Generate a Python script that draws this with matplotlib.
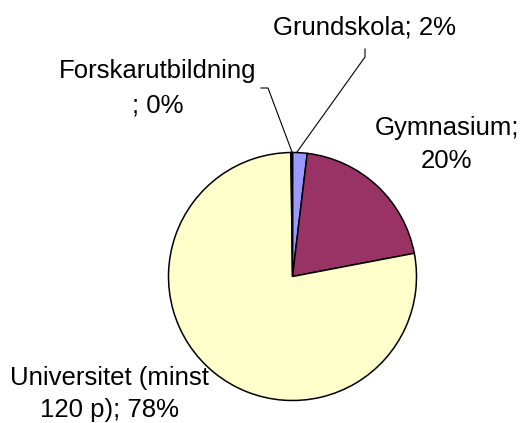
import matplotlib
matplotlib.use("Agg")
import matplotlib.pyplot as plt

# Data
categories = ["Grundskola", "Gymnasium", "Universitet (minst 120 p)", "Forskarutbildning"]
values = [1.9, 20.1, 77.8, 0.2]
pct_labels = ["2%", "20%", "78%", "0%"]
label_lines = [
    ["Grundskola; 2%"],
    ["Gymnasium;", "20%"],
    ["Universitet (minst", "120 p); 78%"],
    ["Forskarutbildning", "; 0%"],
]
colors = ["#9999FF", "#993366", "#FFFFCC", "#FFFFCC"]

W, H = 523, 423
fig = plt.figure(figsize=(W / 100, H / 100), dpi=100)
ax = fig.add_axes([0, 0, 1, 1])

def Y(y):
    return H - y

cx, cy, r = 292.5, 276.5, 124
ax.pie(values, colors=colors, startangle=90, counterclock=False,
       center=(cx, Y(cy)), radius=r, frame=True,
       wedgeprops=dict(edgecolor="black", linewidth=1.1))
ax.set_xlim(0, W)
ax.set_ylim(0, H)
ax.set_aspect("auto")
ax.axis("off")

font = dict(family=["Liberation Sans", "DejaVu Sans"], fontsize=18.5, color="black")

# label placements: (x, baseline y of each line, ha)
placements = [
    (273, [34], "left"),
    (447, [135, 168], "center"),
    (109, [385, 417], "center"),
    (158, [78, 112], "center"),
]
for lines, (x, ys, ha) in zip(label_lines, placements):
    for line, yb in zip(lines, ys):
        ax.text(x, Y(yb), line, ha=ha, va="baseline", **font)

# leader lines
ax.plot([297, 365, 365], [Y(152), Y(57), Y(49)], color="black", lw=0.8)
ax.plot([292, 268, 261], [Y(152), Y(88), Y(88)], color="black", lw=0.8)

fig.savefig("out.png", dpi=100)
